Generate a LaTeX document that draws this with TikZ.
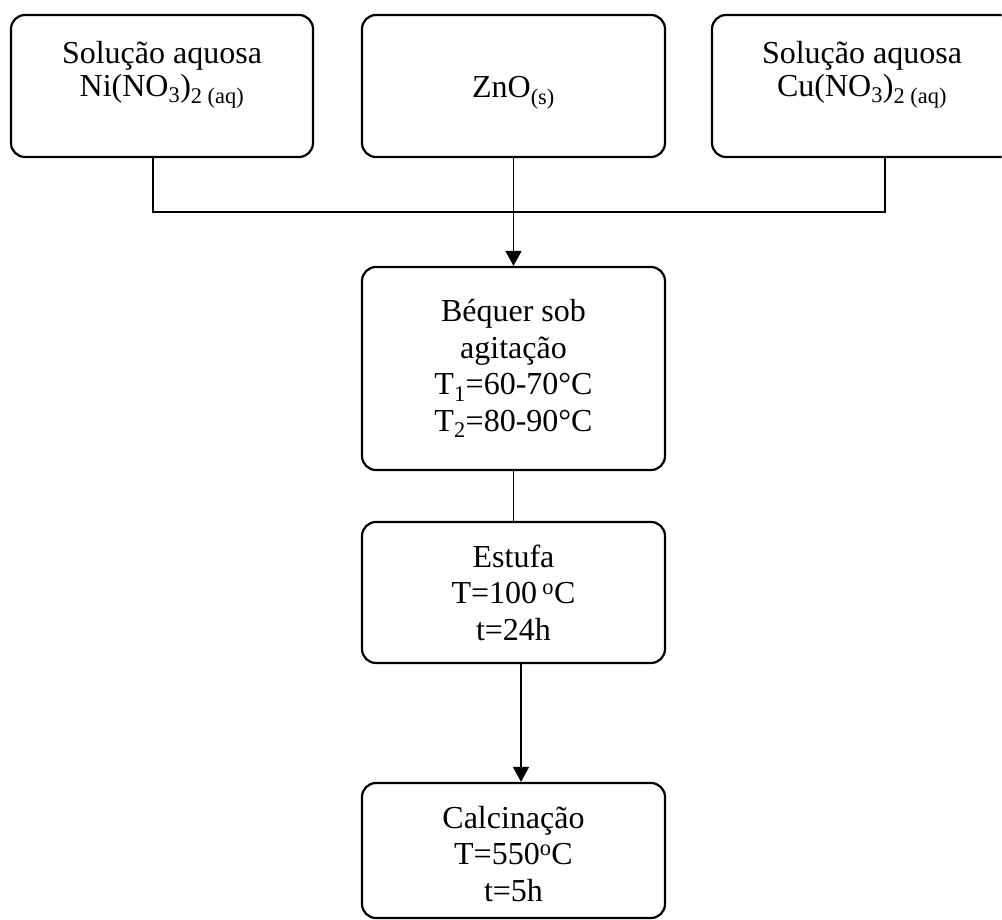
\documentclass[tikz,border=0pt]{standalone}
\usepackage{fontspec}
\setmainfont{Liberation Serif}
\usetikzlibrary{arrows.meta}
\tikzset{
  procbox/.style={draw, line width=2.2pt, rounded corners=14pt, inner sep=0pt},
  conn/.style={line width=1.6pt},
  arrowconn/.style={conn, -{Triangle[width=16pt,length=15pt]}},
  boxtext/.style={anchor=base, inner sep=0pt},
}
\newcommand{\toptxt}[1]{\fontsize{32}{32.5}\selectfont\begin{tabular}[t]{@{}c@{}}#1\end{tabular}}
\newcommand{\midtxt}[1]{\fontsize{32}{36.5}\selectfont\begin{tabular}[t]{@{}c@{}}#1\end{tabular}}
\begin{document}
\begin{tikzpicture}[x=1pt,y=-1pt]
\useasboundingbox (0,0) rectangle (1002,920);
\renewcommand{\arraystretch}{1}
% boxes
\node[procbox, minimum width=302pt, minimum height=142pt] (n1) at (162,86) {};
\node[procbox, minimum width=303pt, minimum height=142pt] (n2) at (513.5,86) {};
\begin{scope}
\clip (0,0) rectangle (1001.5,920);
\node[procbox, minimum width=302pt, minimum height=142pt] (n3) at (863,86) {};
\end{scope}
\node[procbox, minimum width=303pt, minimum height=203pt] (beq) at (513.5,368.5) {};
\node[procbox, minimum width=303pt, minimum height=141pt] (est) at (513.5,592.5) {};
\node[procbox, minimum width=303pt, minimum height=135pt] (cal) at (513.5,850.5) {};
% texts
\node[boxtext] (t1) at (162,64) {\toptxt{Solução aquosa\\Ni(NO\textsubscript{3})\textsubscript{2 (aq)}}};
\node[boxtext] (t2) at (513.5,98) {\fontsize{32}{36}\selectfont ZnO\textsubscript{(s)}};
\node[boxtext] (t3) at (862,64) {\toptxt{Solução aquosa\\Cu(NO\textsubscript{3})\textsubscript{2 (aq)}}};
\node[boxtext] (t4) at (513.5,322) {\midtxt{Béquer sob\\agitação\\T\textsubscript{1}=60-70°C\\T\textsubscript{2}=80-90°C}};
\node[boxtext] (t5) at (513.5,567) {\midtxt{Estufa\\T=100\,\textsuperscript{o}C\\t=24h}};
\node[boxtext] (t6) at (513.5,828) {\midtxt{Calcinação\\T=550\textsuperscript{o}C\\t=5h}};
% connectors
\coordinate (j1) at (153,212);
\coordinate (j3) at (885,212);
\coordinate (k) at (521,700);
\draw[conn] (n1.south -| j1) -- (j1) -- (j3) -- (n3.south -| j3);
\draw[arrowconn] (n2.south) -- (beq.north);
\draw[conn] (beq.south) -- (est.north);
\draw[arrowconn] (est.south -| k) -- (cal.north -| k);
\end{tikzpicture}
\end{document}
